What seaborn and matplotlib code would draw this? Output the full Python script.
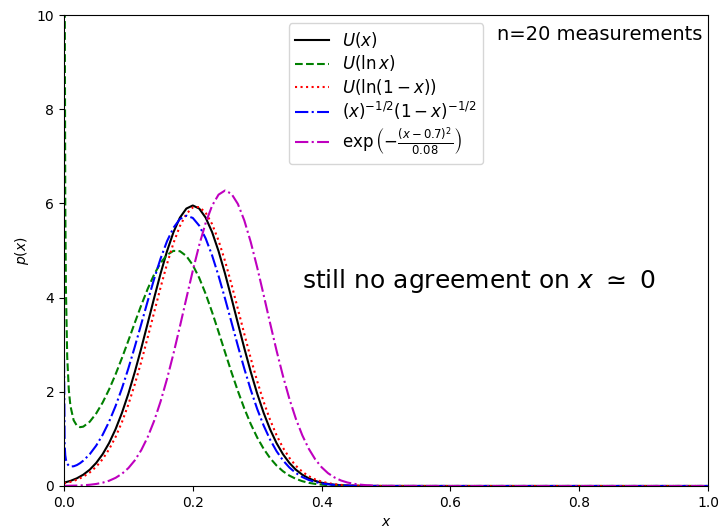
#!/usr/bin/env python3
"""Posterior p(x) for n=20 measurements under five different priors."""

import matplotlib

matplotlib.use("Agg")
import matplotlib.pyplot as plt
import seaborn as sns

# x grid shared by the smooth curves
X_GRID = [
    0.00, 0.01, 0.02, 0.03, 0.04, 0.05, 0.06, 0.07, 0.08, 0.09,
    0.10, 0.11, 0.12, 0.13, 0.14, 0.15, 0.16, 0.17, 0.18, 0.19,
    0.20, 0.21, 0.22, 0.23, 0.24, 0.25, 0.26, 0.27, 0.28, 0.29,
    0.30, 0.31, 0.32, 0.33, 0.34, 0.35, 0.36, 0.37, 0.38, 0.39,
    0.40, 0.41, 0.42, 0.43, 0.44, 0.45, 0.46, 0.47, 0.48, 0.49,
    0.50, 0.60, 0.70, 0.80, 0.90, 1.00,
]

# finer start for the two priors that blow up at x -> 0
X_FINE = [
    0.0001, 0.001, 0.002, 0.003, 0.005, 0.0075, 0.01, 0.015, 0.02, 0.025,
    0.03, 0.04, 0.05, 0.06, 0.07, 0.08, 0.09,
    0.10, 0.11, 0.12, 0.13, 0.14, 0.15, 0.16, 0.17, 0.18, 0.19,
    0.20, 0.21, 0.22, 0.23, 0.24, 0.25, 0.26, 0.27, 0.28, 0.29,
    0.30, 0.31, 0.32, 0.33, 0.34, 0.35, 0.36, 0.37, 0.38, 0.39,
    0.40, 0.41, 0.42, 0.43, 0.44, 0.45, 0.46, 0.47, 0.48, 0.49,
    0.50, 0.60, 0.70, 0.80, 0.90, 1.00,
]

P_UNIFORM = [
    0.070, 0.108, 0.163, 0.240, 0.346, 0.489, 0.675, 0.911, 1.203, 1.553,
    1.961, 2.422, 2.925, 3.456, 3.992, 4.512, 4.986, 5.389, 5.697, 5.890,
    5.956, 5.890, 5.697, 5.389, 4.986, 4.512, 3.992, 3.456, 2.925, 2.422,
    1.961, 1.553, 1.203, 0.911, 0.675, 0.489, 0.346, 0.240, 0.163, 0.108,
    0.070, 0.044, 0.028, 0.017, 0.010, 0.006, 0.003, 0.002, 0.001, 0.0005,
    0.0003, 0.0, 0.0, 0.0, 0.0, 0.0,
]

P_LOG_ONE_MINUS = [
    0.056, 0.087, 0.132, 0.197, 0.287, 0.409, 0.570, 0.778, 1.038, 1.356,
    1.731, 2.162, 2.640, 3.155, 3.688, 4.217, 4.715, 5.158, 5.519, 5.777,
    5.914, 5.923, 5.802, 5.560, 5.211, 4.779, 4.286, 3.760, 3.227, 2.710,
    2.225, 1.788, 1.405, 1.080, 0.812, 0.597, 0.430, 0.303, 0.208, 0.140,
    0.093, 0.060, 0.038, 0.023, 0.014, 0.008, 0.005, 0.003, 0.0015, 0.0008,
    0.0004, 0.0, 0.0, 0.0, 0.0, 0.0,
]

P_GAUSS_PRIOR = [
    0.003, 0.005, 0.009, 0.015, 0.026, 0.043, 0.070, 0.111, 0.172, 0.259,
    0.380, 0.545, 0.762, 1.039, 1.383, 1.795, 2.274, 2.810, 3.387, 3.984,
    4.571, 5.116, 5.587, 5.952, 6.186, 6.273, 6.205, 5.988, 5.638, 5.178,
    4.640, 4.056, 3.459, 2.877, 2.336, 1.849, 1.428, 1.077, 0.792, 0.568,
    0.398, 0.271, 0.181, 0.117, 0.074, 0.046, 0.028, 0.016, 0.009, 0.005,
    0.003, 0.0, 0.0, 0.0, 0.0, 0.0,
]

P_LOG = [
    110.6, 11.5, 6.02, 4.19, 2.745, 2.037, 1.699, 1.395, 1.281, 1.249,
    1.260, 1.364, 1.540, 1.771, 2.049, 2.367, 2.717,
    3.088, 3.467, 3.839, 4.186, 4.491, 4.737, 4.907, 4.992, 4.985, 4.883,
    4.690, 4.418, 4.078, 3.690, 3.272, 2.842, 2.418, 2.016, 1.645, 1.315,
    1.029, 0.789, 0.592, 0.435, 0.313, 0.220, 0.152, 0.102, 0.067, 0.044,
    0.028, 0.017, 0.010, 0.006, 0.0035, 0.002, 0.0011, 0.0006, 0.0003, 0.0002,
    0.0001, 0.0, 0.0, 0.0, 0.0, 0.0,
]

P_JEFFREYS = [
    2.69, 0.884, 0.654, 0.558, 0.472, 0.430, 0.414, 0.418, 0.444, 0.485,
    0.538, 0.675, 0.857, 1.086, 1.364, 1.694, 2.073,
    2.498, 2.958, 3.440, 3.927, 4.397, 4.830, 5.198, 5.483, 5.668, 5.739,
    5.691, 5.527, 5.256, 4.894, 4.461, 3.981, 3.479, 2.974, 2.490, 2.040,
    1.635, 1.283, 0.985, 0.740, 0.544, 0.392, 0.276, 0.190, 0.128, 0.085,
    0.055, 0.035, 0.021, 0.013, 0.0076, 0.0044, 0.0025, 0.0014, 0.0008, 0.0004,
    0.0002, 0.0, 0.0, 0.0, 0.0, 0.0,
]

LABELS = [
    r"$U(x)$",
    r"$U(\ln x)$",
    r"$U(\ln(1-x))$",
    r"$(x)^{-1/2}(1-x)^{-1/2}$",
    r"$\exp\left(-\frac{(x-0.7)^2}{0.08}\right)$",
]


def main() -> None:
    fig = plt.figure(figsize=(7.23, 5.32), dpi=100)
    ax = fig.add_axes([0.0885, 0.0865, 0.8908, 0.8853])

    curves = [
        (X_GRID, P_UNIFORM, "k", "-"),
        (X_FINE, P_LOG, "g", "--"),
        (X_GRID, P_LOG_ONE_MINUS, "r", ":"),
        (X_FINE, P_JEFFREYS, "b", "-."),
        (X_GRID, P_GAUSS_PRIOR, "m", "-."),
    ]
    for (xs, ys, color, ls), label in zip(curves, LABELS):
        sns.lineplot(x=xs, y=ys, ax=ax, color=color, linestyle=ls,
                     linewidth=1.5, label=label)

    ax.set_xlim(0.0, 1.0)
    ax.set_ylim(0.0, 10.0)
    ax.set_xlabel(r"$x$")
    ax.set_ylabel(r"$p(x)$")

    ax.text(0.37, 4.2, r"still no agreement on $x\ \simeq\ 0$", fontsize=18)
    ax.text(0.672, 9.47, "n=20 measurements", fontsize=14)

    ax.legend(loc="upper center", fontsize=12, labelspacing=0.2)

    fig.savefig("out.png", dpi=100, facecolor="white")
    plt.close(fig)


if __name__ == "__main__":
    main()
